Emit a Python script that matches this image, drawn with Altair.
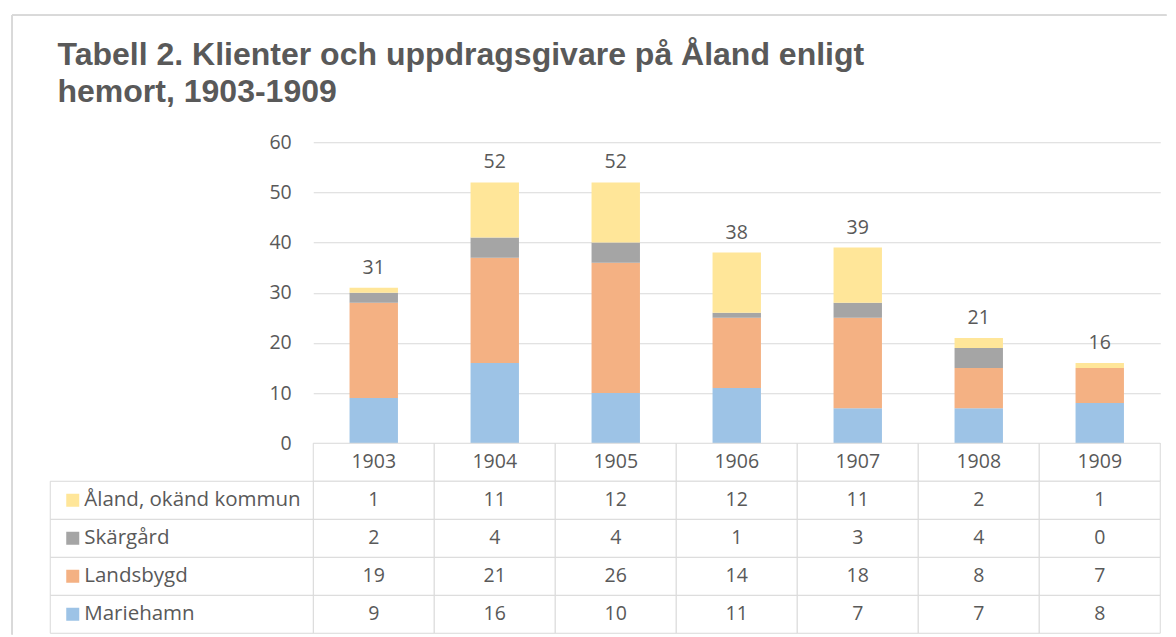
import altair as alt
import pandas as pd

years = ["1903", "1904", "1905", "1906", "1907", "1908", "1909"]
series = ["Mariehamn", "Landsbygd", "Skärgård", "Åland, okänd kommun"]
mariehamn = [9, 16, 10, 11, 7, 7, 8]
landsbygd = [19, 21, 26, 14, 18, 8, 7]
skargard = [2, 4, 4, 1, 3, 4, 0]
aland_okand = [1, 11, 12, 12, 11, 2, 1]
colors = ["#9DC3E6", "#F4B183", "#A5A5A5", "#FFE699"]
title_lines = ["Tabell 2. Klienter och uppdragsgivare på Åland enligt", "hemort, 1903-1909"]

values = [mariehamn, landsbygd, skargard, aland_okand]
HDR = "_header"
rows = [HDR] + series[::-1]

recs = []
for i, (s, vals) in enumerate(zip(series, values)):
    for y, v in zip(years, vals):
        recs.append({"year": y, "series": s, "value": v, "idx": i})
df = pd.DataFrame(recs)
tot = df.groupby("year", as_index=False)["value"].sum().rename(columns={"value": "total"})
hdr = pd.DataFrame({"year": years, "row": HDR, "label": years})
cells = pd.concat([hdr, pd.DataFrame({"year": df["year"], "row": df["series"], "label": df["value"].astype(str)})], ignore_index=True)
legend_df = pd.DataFrame({"row": series})

W = 847
H = 301
TXT = "#595959"
GRID = "#d9d9d9"
FONT = "Open Sans"
FS = 19.5

xb = alt.X("year:N", sort=years, axis=None, scale=alt.Scale(paddingInner=0.6, paddingOuter=0.3))
bars = alt.Chart(df).mark_bar().encode(
    x=xb,
    y=alt.Y("value:Q", stack="zero", scale=alt.Scale(domain=[0, 60]),
            axis=alt.Axis(values=list(range(0, 61, 10)), grid=True, gridColor=GRID, gridWidth=1,
                          domain=False, ticks=False, labelFont=FONT, labelFontSize=FS,
                          labelColor=TXT, labelPadding=22, title=None)),
    color=alt.Color("series:N", scale=alt.Scale(domain=series, range=colors), legend=None),
    order=alt.Order("idx:Q"),
)
totals = alt.Chart(tot).mark_text(baseline="bottom", dy=-10, font=FONT, fontSize=FS, color=TXT).encode(
    x=xb, y=alt.Y("total:Q"), text="total:Q"
)
frame_top = alt.Chart(tot).mark_rule(stroke=GRID, strokeWidth=1.5).encode(
    x=alt.value(-301), x2=alt.value(853), y=alt.value(-127)
)
frame_left = alt.Chart(tot).mark_rule(stroke=GRID, strokeWidth=1.5).encode(
    x=alt.value(-301), y=alt.value(-127), y2=alt.value(492)
)
top = alt.layer(frame_top, frame_left, bars, totals).properties(width=W, height=H)

xt = alt.X("year:N", sort=years, axis=None, scale=alt.Scale(paddingInner=0, paddingOuter=0))
yt = alt.Y("row:N", sort=rows, axis=None, scale=alt.Scale(domain=rows, paddingInner=0, paddingOuter=0))
cell_rects = alt.Chart(cells).mark_rect(fill="white", stroke=GRID, strokeWidth=1).encode(x=xt, y=yt)
cell_text = alt.Chart(cells).mark_text(font=FONT, fontSize=FS, color=TXT).encode(x=xt, y=yt, text="label:N")
leg_rects = alt.Chart(legend_df).mark_rect(fill="white", stroke=GRID, strokeWidth=1).encode(
    x=alt.value(-263), x2=alt.value(0), y=yt)
leg_sq = alt.Chart(legend_df).mark_square(size=169, opacity=1, filled=True).encode(
    x=alt.value(-240.5), y=yt,
    color=alt.Color("row:N", scale=alt.Scale(domain=series, range=colors), legend=None))
leg_txt = alt.Chart(legend_df).mark_text(align="left", font=FONT, fontSize=20.5, color=TXT).encode(
    x=alt.value(-229), y=yt, text="row:N")
table = alt.layer(cell_rects, leg_rects, cell_text, leg_sq, leg_txt).properties(width=W, height=190)

chart = alt.vconcat(top, table, spacing=0, bounds="flush").resolve_scale(x="independent", y="independent").properties(
    title=alt.TitleParams(title_lines, anchor="start", frame="bounds", font="Liberation Sans", fontSize=32,
                          fontWeight="bold", color=TXT, lineHeight=37, offset=-94, dx=46),
    padding={"left": 3.25, "top": 6.25, "right": 0, "bottom": 0},
).configure_view(stroke=None)

chart.save("out.html", embed_options={"renderer": "svg", "actions": False})
